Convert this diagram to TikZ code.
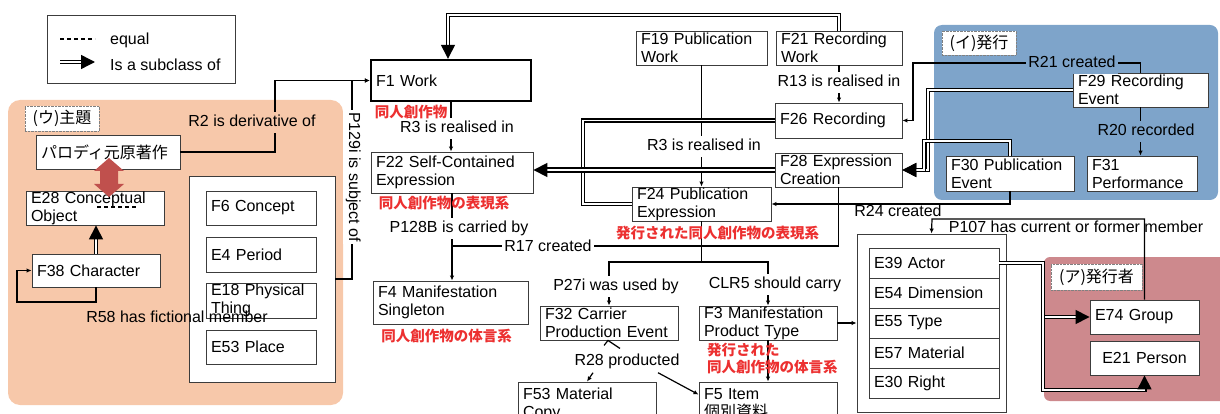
\documentclass[tikz,border=0pt]{standalone}
\usepackage{fontspec}
\setmainfont{Liberation Sans}
\newfontfamily\ja{Noto Sans CJK JP}
\usetikzlibrary{arrows.meta,calc}
\definecolor{salmon}{RGB}{247,200,170}
\definecolor{pblue}{RGB}{126,164,202}
\definecolor{prose}{RGB}{205,137,141}
\definecolor{jred}{RGB}{236,48,48}
\definecolor{bgray}{RGB}{60,60,60}
\definecolor{blkarrow}{RGB}{192,80,77}
\newcommand{\bx}[7][]{%
  \pgfmathsetmacro\bxw{#5-#3}%
  \pgfmathsetmacro\bxh{#6-#4}%
  \pgfmathsetmacro\bxt{#5-#3-10}%
  \pgfmathsetmacro\bxcx{(#3+#5)/2}%
  \pgfmathsetmacro\bxcy{(#4+#6)/2}%
  \node[box,minimum width=\bxw pt,minimum height=\bxh pt,text width=\bxt pt,#1] (#2) at (\bxcx,\bxcy) {#7};%
}
\begin{document}
\begin{tikzpicture}[x=1pt,y=-1pt,
 every node/.style={font=\fontsize{16}{18}\selectfont},
 box/.style={draw=bgray,line width=0.9pt,fill=white,inner xsep=5pt,inner ysep=0pt,align=left},
 conn/.style={line width=1.2pt,-{Latex[length=5pt,width=4.5pt]}},
 plain/.style={line width=1.2pt},
 dblp/.style={line width=1.4pt,double=white,double distance=1.6pt},
 dbl/.style={dblp,-{Triangle[length=14pt,width=14pt]}},
 lbl/.style={inner xsep=2pt,inner ysep=3pt,text height=11.5pt,text depth=3.5pt},
 jp/.style={font=\ja\bfseries\fontsize{14.5}{17}\selectfont,text=jred,inner sep=0pt,align=left},
 tag/.style={draw=gray,densely dotted,fill=white,font=\ja\fontsize{16}{18}\selectfont,inner sep=0pt},
]
\useasboundingbox (0,0) rectangle (1220,414);
\clip (0,0) rectangle (1220,414);

% panels
\fill[salmon, rounded corners=12pt] (8,100) rectangle (343,405);
\fill[pblue, rounded corners=8pt] (934,25) rectangle (1218,200);
\fill[prose, rounded corners=6pt] (1044,257) rectangle (1232,401);

% legend
\node[draw=bgray,line width=0.9pt,minimum width=188pt,minimum height=68pt,inner sep=0pt] (legend) at (141,49) {};
\coordinate (lg1a) at (60,39); \coordinate (lg1b) at (95,39);
\coordinate (lg2a) at (60,62); \coordinate (lg2b) at (95,62);
\draw[plain,dash pattern=on 4pt off 3pt] (lg1a) -- (lg1b);
\draw[dbl] (lg2a) -- (lg2b);
\node[lbl,anchor=west] (lgt1) at (108,41) {equal};
\node[lbl,anchor=west] (lgt2) at (108,67) {Is a subclass of};

% tags
\node[tag,minimum width=74pt,minimum height=25pt] (tagU) at (62,118.5) {(ウ)主題};
\node[tag,minimum width=74pt,minimum height=24pt] (tagI) at (979,43) {(イ)発行};
\node[tag,minimum width=91pt,minimum height=26pt] (tagA) at (1096.5,277) {(ア)発行者};

% left boxes
\bx{pa}{36}{135}{180}{169}{\ja パロディ元原著作}
\bx{E28}{26}{191}{164}{225}{E28 Conceptual\\Object}
\bx{F38}{32}{254}{160}{287}{F38 Character}
\bx{contL}{189}{176}{335}{382}{}
\bx{F6}{206}{191}{316}{225}{F6 Concept}
\bx{E4}{206}{237}{316}{272}{E4 Period}
\bx{E18}{206}{283}{316}{318}{E18 Physical\\Thing}
\bx{E53}{206}{330}{316}{364}{E53 Place}

% middle boxes
\bx[line width=2.4pt,draw=black]{F1}{371}{60}{531}{101}{F1 Work}
\bx{F22}{371}{152}{533}{193}{F22 Self-Contained\\Expression}
\bx{F4}{373}{281}{528}{324}{F4 Manifestation\\Singleton}
\bx{F19}{636}{31}{767}{65}{F19 Publication\\Work}
\bx{F21}{776}{31}{902}{65}{F21 Recording\\Work}
\bx{F26}{775}{103}{902}{138}{F26 Recording}
\bx{F28}{775}{153}{902}{187}{F28 Expression\\Creation}
\bx{F24}{632}{187}{771}{221}{F24 Publication\\Expression}
\bx{F32}{540}{306}{678}{340}{F32 Carrier\\Production Event}
\bx{F3}{699}{306}{837}{340}{F3 Manifestation\\Product Type}
\bx{F53}{518}{382}{656}{426}{F53 Material\\Copy}
\bx{F5}{699}{382}{837}{426}{F5 Item\\{\ja 個別資料}}

% right boxes
\bx{F29}{1073}{73}{1208}{107}{F29 Recording\\Event}
\bx{F30}{946}{156}{1074}{191}{F30 Publication\\Event}
\bx{F31}{1087}{156}{1197}{191}{F31\\Performance}
\bx{contR}{857}{234}{1006}{412}{}
\bx{E39}{869}{248}{999}{278}{E39 Actor}
\bx{E54}{869}{278}{999}{308}{E54 Dimension}
\bx{E55}{869}{308}{999}{338}{E55 Type}
\bx{E57}{869}{338}{999}{368}{E57 Material}
\bx{E30}{869}{368}{999}{398}{E30 Right}
\bx{E74}{1090}{300}{1199}{334}{E74 Group}
\bx[align=center]{E21}{1090}{341}{1199}{375}{E21 Person}

% coordinates
\coordinate (x448) at (448,0);
\coordinate (topL) at (448,15);
\coordinate (r17end) at (452,246);
\coordinate (split) at (701.5,262);

% thin connectors
\draw[conn] (pa.east) -- (275,152) |- (F1.west);
\draw[conn] (contL.east) -| (352,80.5) -- (F1.west);
\draw[conn] (F38.south) -- (96,302) -| (17,270.5) -- (F38.west);
\draw[conn] (F1.south) -- (F1.south |- F22.north);
\draw[conn] (F22.south) -- (F22.south |- F4.north);
\draw[plain] (F28.south) |- (r17end);
\draw[conn] (F19.south) -- (F19.south |- F24.north);
\draw[conn] (F21.south) -- (F21.south |- F26.north);
\draw[conn] (F29.north) |- (913,63) |- (F26.east);
\draw[conn] (F29.south) -- (F29.south |- F31.north);
\draw[conn] (F30.south) |- (F24.east);
\draw[plain] (F24.south) -- (split);
\draw[conn] (split) -| (F32.north);
\draw[conn] (split) -| (F3.north);
\draw[conn] (F3.east) -- (F3.east -| contR.west);
\draw[conn] (F3.south) -- (F3.south |- F5.north);
\draw[conn] (E74.north) |- (932,219) -- (contR.north);

% double connectors
\draw[dbl] (F21.north) |- (topL) -- (F1.north -| x448);
\draw[dblp] (F26.west) -- (583,120.5) |- (F24.west);
\draw[dbl,line width=1.8pt] (F28.west) -- (F28.west -| F22.east);
\draw[dbl] (F29.west) -| (928,170) -- (F28.east);
\draw[dbl] (F30.north) |- (924,141) -- (924,170) -- (F28.east);
\draw[dbl] (F38.north) -- (F38.north |- E28.south);
\draw[dbl] (E39.east) -- (1043,263) |- (E74.west);
\draw[dbl] (E39.east) -- (1043,263) -- (1043,390) -| (E21.south);

% labels
\node[lbl,fill=salmon] (lR2) at (252,123) {R2 is derivative of};
\node[lbl,fill=white,rotate=-90] (lP129) at (353,177) {P129i is subject of};
\node[lbl] (lR58) at (177,318) {R58 has fictional member};
\node[lbl,fill=white] (lR3a) at (457,129) {R3 is realised in};
\node[lbl,fill=white] (lP128) at (459,228) {P128B is carried by};
\node[lbl,fill=white] (lR17) at (548,247) {R17 created};
\node[lbl,fill=white] (lR3b) at (704,147) {R3 is realised in};
\node[lbl,fill=white] (lR13) at (839,83) {R13 is realised in};
\node[lbl,fill=pblue] (lR21) at (1072,64) {R21 created};
\node[lbl,fill=pblue] (lR20) at (1146,132) {R20 recorded};
\node[lbl] (lR24) at (898,212) {R24 created};
\node[lbl] (lP107) at (1076,228) {P107 has current or former member};
\node[lbl,fill=white] (lP27) at (616,286) {P27i was used by};
\node[lbl,fill=white] (lCLR5) at (775,284) {CLR5 should carry};
\node[lbl,fill=white] (lR28) at (627,361) {R28 producted};

% R28 arrows
\draw[conn] ($(lR28.south)+(-34,1)$) -- (F53.north);
\draw[conn] ($(lR28.south)+(31,1)$) -- ($(F5.north west)+(0,13)$);
\draw[plain] ($(F32.south)+(11,8)$) -- ($(F32.south)+(-1,0)$) -- ($(F32.south)+(-5,5)$);

% equal marks
\fill[blkarrow] (109,158) -- (124,171) -- (118,171) -- (118,184) -- (124,184) -- (109,197) -- (94,184) -- (100,184) -- (100,171) -- (94,171) -- cycle;
\coordinate (eqa) at (97,207); \coordinate (eqb) at (137,207);
\draw[plain,dash pattern=on 4pt off 3pt] (eqa) -- (eqb);

% red Japanese texts
\node[jp] (j1) at (411,112) {同人創作物};
\node[jp] (j2) at (444,203) {同人創作物の表現系};
\node[jp] (j3) at (446.5,336) {同人創作物の体言系};
\node[jp] (j4) at (717.5,233) {発行された同人創作物の表現系};
\node[jp,anchor=north west] (j5) at (707,343) {発行された\\同人創作物の体言系};
\end{tikzpicture}
\end{document}
